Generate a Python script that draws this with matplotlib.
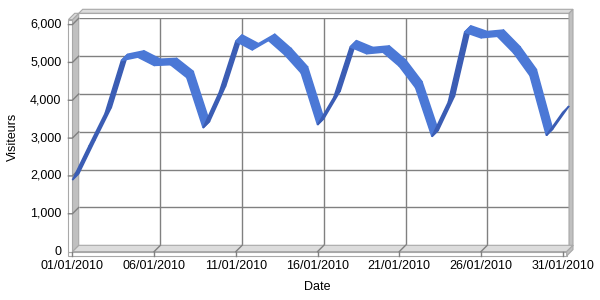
import matplotlib
matplotlib.use('Agg')
import matplotlib.pyplot as plt
from matplotlib.patches import Polygon
from matplotlib.lines import Line2D
from matplotlib.transforms import IdentityTransform

# ---------------- data ----------------
days = list(range(1, 32))
visitors = [1890, 2780, 3650, 5050, 5140, 4920, 4940, 4600, 3270, 4220,
            5560, 5330, 5580, 5200, 4720, 3350, 4080, 5410, 5230, 5270,
            4900, 4330, 3040, 3950, 5800, 5650, 5690, 5250, 4650, 3070, 3680]
xtick_days = [1, 6, 11, 16, 21, 26, 31]
xtick_labels = ['01/01/2010', '06/01/2010', '11/01/2010', '16/01/2010',
                '21/01/2010', '26/01/2010', '31/01/2010']
yticks = [0, 1000, 2000, 3000, 4000, 5000, 6000]
ytick_labels = ['0', '1,000', '2,000', '3,000', '4,000', '5,000', '6,000']
x_title = 'Date'
y_title = 'Visiteurs'

# ---------------- style ----------------
W, H = 600, 300
D = 6.3        # depth of the 3D plot (px)
T = 4.0        # wall thickness (px)
TF = 4.3       # floor slab thickness (px)
TOPPAD = 5.0   # wall height above the top gridline (px)
GRID = '#808080'
EDGE = '#a8a8a8'
WALL = '#c0c0c0'
FLOOR = '#dcdcdc'
LIGHT = '#4b78d6'
DARK = '#3b5db4'
FONT = 'Liberation Sans'
FS = 9

fig = plt.figure(figsize=(W / 100, H / 100), dpi=100)
fig.patch.set_facecolor('white')
ax = fig.add_axes([78.7 / W, 1 - 245.3 / H, (569 - 78.7) / W, (245.3 - 18.3) / H])
ax.set_xlim(days[0], days[-1])
ax.set_ylim(yticks[0], yticks[-1])
ax.axis('off')

ID = IdentityTransform()


def px(x, y):
    return ax.transData.transform((x, y))


def poly(pts, fc, ec=EDGE, lw=0.8, z=1):
    p = Polygon(pts, closed=True, facecolor=fc, edgecolor=ec, linewidth=lw,
                transform=ID, zorder=z)
    fig.add_artist(p)


def line(xs, ys, color=GRID, lw=1.0, z=2):
    fig.add_artist(Line2D(xs, ys, color=color, linewidth=lw, transform=ID, zorder=z))


xl, y0 = px(days[0], 0)
xr, ytop = px(days[-1], yticks[-1])
yw = ytop + TOPPAD

# back wall top face and right face
poly([(xl, yw), (xr, yw), (xr + T, yw + T), (xl + T, yw + T)], FLOOR, z=1)
poly([(xr, y0 - TF), (xr, yw), (xr + T, yw + T), (xr + T, y0 - TF + T)], WALL, z=1)
line([xl, xr], [yw, yw], color=EDGE, lw=0.8, z=1.5)

# gridlines on back wall (through axes scales)
ax.hlines(yticks[1:], days[0], days[-1], colors=GRID, linewidth=1.0, zorder=2)
ax.vlines(xtick_days[1:-1], yticks[0], yticks[-1], colors=GRID, linewidth=1.0, zorder=2)

# floor
poly([(xl, y0), (xr + T, y0), (xr + T - D, y0 - D), (xl - D, y0 - D)], FLOOR, z=3)
poly([(xl - D - T, y0 - D), (xr + T - D, y0 - D), (xr + T - D, y0 - D - TF),
      (xl - D - T, y0 - D - TF)], 'white', z=3)
poly([(xr + T - D, y0 - D), (xr + T, y0), (xr + T, y0 - TF), (xr + T - D, y0 - D - TF)],
     WALL, z=3)

# left wall
poly([(xl, y0), (xl, yw), (xl - D, yw - D), (xl - D, y0 - D)], WALL, z=3)
poly([(xl - D - T, y0 - D), (xl - D, y0 - D), (xl - D, yw - D), (xl - D - T, yw - D)],
     'white', z=3)
poly([(xl - D - T, yw - D), (xl - D, yw - D), (xl, yw), (xl - T, yw)], FLOOR, z=3)

# ticks on left wall + y labels
for v, lab in zip(yticks, ytick_labels):
    bx, by = px(days[0], v)
    if v > 0:
        line([bx, bx - D, bx - D - T], [by, by - D, by - D], z=4)
    fig.text((bx - D - T - 7) / W, (by - D) / H, lab, ha='right', va='center',
             fontsize=FS, family=FONT, color='black')

# ticks on floor + x labels
for d, lab in zip(xtick_days, xtick_labels):
    bx, by = px(d, 0)
    if d != days[0] and d != days[-1]:
        line([bx, bx - D], [by, by - D], z=4)
    line([bx - D, bx - D], [by - D, by - D - TF], z=4)
    fig.text((bx - D) / W, (by - D - TF - 10.5) / H, lab, ha='center', va='center',
             fontsize=FS, family=FONT, color='black')

# ribbon
pts = [px(d, v) for d, v in zip(days, visitors)]
for (x1, y1), (x2, y2) in zip(pts[:-1], pts[1:]):
    sx, sy = x2 - x1, y2 - y1
    col = DARK if sy > sx else LIGHT
    poly([(x1, y1), (x2, y2), (x2 - D, y2 - D), (x1 - D, y1 - D)], col, ec=col,
         lw=1.1, z=5)

# axis titles
xc = ((xl - D) + (xr - D)) / 2
fig.text(xc / W, 1 - 286.7 / H, x_title, ha='center', va='center',
         fontsize=FS, family=FONT, color='black')
fig.text(12.5 / W, 1 - 137 / H, y_title, ha='center', va='center', rotation=90,
         fontsize=FS, family=FONT, color='black')

fig.savefig('out.png', dpi=100, facecolor='white')
